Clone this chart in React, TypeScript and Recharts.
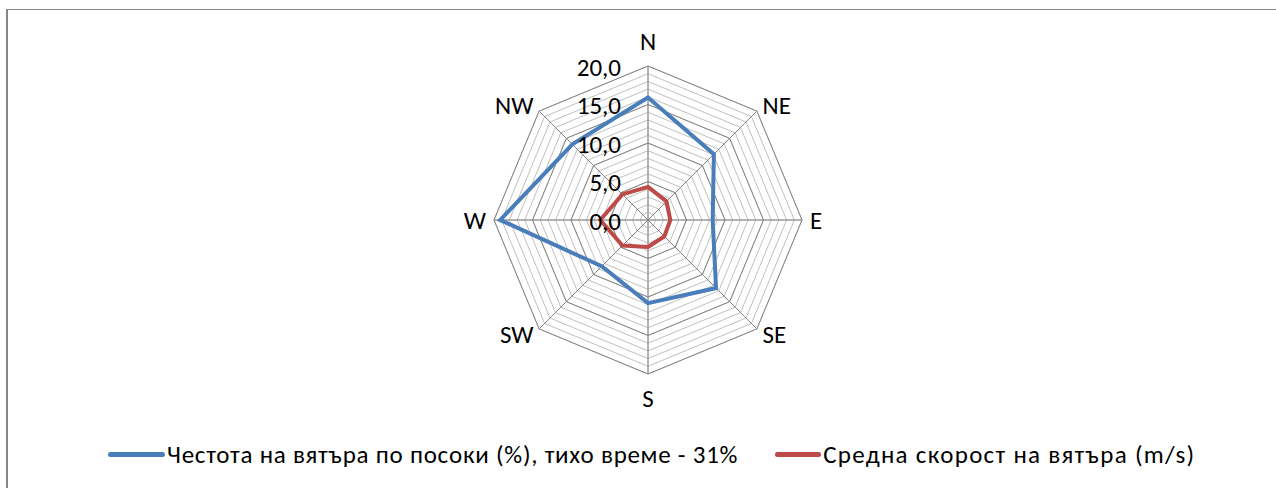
import { RadarChart, Radar, PolarGrid, PolarAngleAxis, PolarRadiusAxis, Legend } from "recharts"

const directions = ["N", "NE", "E", "SE", "S", "SW", "W", "NW"]
const frequency = [15.9, 12.1, 8.4, 12.5, 10.8, 8.5, 19.2, 13.9]
const speed = [4.3, 3.4, 2.9, 3.0, 3.5, 4.7, 6.2, 4.7]
const radiusTicks = Array.from({ length: 21 }, (_, i) => i)
const majorTicks = [5, 10, 15, 20]

const freqName = "Честота на вятъра по посоки (%), тихо време - 31%"
const speedName = "Средна скорост на вятъра (m/s)"

const FONT = "Calibri, Carlito, 'Open Sans', sans-serif"
const BLUE = "#4a7ebb"
const RED = "#be4b48"
const OUTER = 154
const MAX = 20

const chartData = directions.map((d, i) => ({
  dir: d,
  freq: frequency[i],
  speed: speed[i],
}))

const RadiusTick = ({ x, y, payload }: any) => {
  if (payload.value % 5 !== 0) return null
  return (
    <text x={x - 27} y={y + 1} textAnchor="end" dominantBaseline="central" fontSize={25} fill="#000" fontFamily={FONT}>
      {payload.value.toFixed(1).replace(".", ",")}
    </text>
  )
}

const AngleTick = ({ x, y, cx, cy, payload }: any) => {
  const dx = x - cx
  const dy = y - cy
  let anchor = "middle"
  if (dx > 1) anchor = "start"
  if (dx < -1) anchor = "end"
  let ty = y
  if (Math.abs(dx) <= 1) ty = dy < 0 ? y - 17 : y + 16
  return (
    <text x={x} y={ty} textAnchor={anchor} dominantBaseline="central" fontSize={25} fill="#000" fontFamily={FONT}>
      {payload.value}
    </text>
  )
}

const LegendContent = () => (
  <div style={{ display: "flex", alignItems: "center", fontFamily: FONT, fontSize: 25, color: "#000", whiteSpace: "nowrap" }}>
    <div style={{ width: 57, height: 5, borderRadius: 3, background: BLUE, marginRight: 2 }} />
    <span style={{ letterSpacing: 0.76 }}>{freqName}</span>
    <div style={{ width: 46, height: 5, borderRadius: 3, background: RED, marginLeft: 37, marginRight: 2 }} />
    <span style={{ letterSpacing: 1.3 }}>{speedName}</span>
  </div>
)

export default function App() {
  return (
    <div style={{ position: "absolute", left: 0, top: 0, width: 1276, height: 488, background: "#fff", overflow: "hidden" }}>
      <div style={{ position: "absolute", left: 6, top: 9, width: 1300, height: 500, borderLeft: "2px solid #868686", borderTop: "1px solid #868686" }} />
      <RadarChart
        width={1276}
        height={488}
        data={chartData}
        cx={648}
        cy={220}
        outerRadius={OUTER}
        margin={{ top: 0, right: 0, bottom: 0, left: 0 }}
        style={{ position: "absolute", left: 0, top: 0 }}
      >
        <PolarGrid gridType="polygon" stroke="#c0c0c0" strokeWidth={1} />
        <PolarGrid
          gridType="polygon"
          stroke="#868686"
          strokeWidth={1}
          polarRadius={majorTicks.map((v) => (v / MAX) * OUTER)}
        />
        <PolarAngleAxis dataKey="dir" tick={<AngleTick />} tickLine={false} axisLine={false} />
        <PolarRadiusAxis
          angle={90}
          domain={[0, MAX]}
          ticks={radiusTicks}
          tick={<RadiusTick />}
          axisLine={false}
          tickLine={false}
        />
        <Radar
          name={freqName}
          dataKey="freq"
          stroke={BLUE}
          strokeWidth={4}
          fill="none"
          fillOpacity={0}
          dot={false}
          isAnimationActive={false}
        />
        <Radar
          name={speedName}
          dataKey="speed"
          stroke={RED}
          strokeWidth={4}
          fill="none"
          fillOpacity={0}
          dot={false}
          isAnimationActive={false}
        />
        <Legend
          content={<LegendContent />}
          wrapperStyle={{ position: "absolute", left: 108, top: 439, width: "auto" }}
        />
      </RadarChart>
    </div>
  )
}
